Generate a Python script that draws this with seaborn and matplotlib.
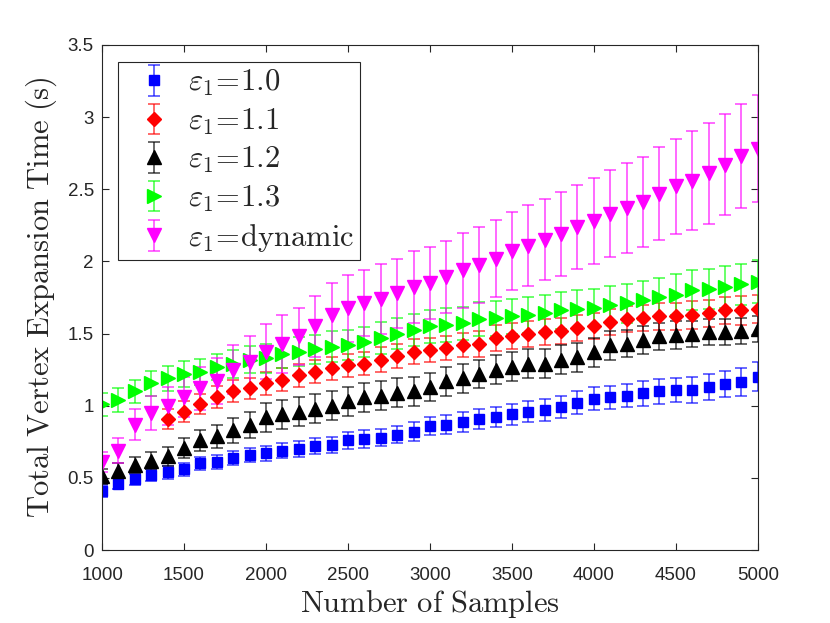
import numpy as np
import matplotlib
matplotlib.use("Agg")
import matplotlib.pyplot as plt
import seaborn as sns

# Number of samples on the x axis
samples = list(range(1000, 5001, 100))

# Mean total vertex expansion time (s)
eps_10 = [0.41, 0.46, 0.49, 0.52, 0.54, 0.56, 0.60, 0.61, 0.64, 0.66,
          0.67, 0.69, 0.70, 0.72, 0.73, 0.76, 0.77, 0.78, 0.80, 0.82,
          0.86, 0.87, 0.89, 0.91, 0.92, 0.94, 0.96, 0.97, 0.99, 1.02,
          1.05, 1.06, 1.07, 1.085, 1.10, 1.11, 1.11, 1.13, 1.15, 1.165, 1.20]
# the first four points of this series are not visible in the figure
eps_11 = [np.nan, np.nan, np.nan, np.nan, 0.91, 0.96, 1.01, 1.06, 1.10, 1.12,
          1.155, 1.18, 1.21, 1.235, 1.26, 1.28, 1.29, 1.32, 1.345, 1.375,
          1.385, 1.40, 1.42, 1.43, 1.47, 1.48, 1.50, 1.51, 1.52, 1.54,
          1.55, 1.58, 1.60, 1.61, 1.62, 1.62, 1.63, 1.64, 1.66, 1.66, 1.67]
eps_12 = [0.51, 0.55, 0.59, 0.62, 0.65, 0.71, 0.76, 0.79, 0.83, 0.87,
          0.92, 0.94, 0.96, 0.98, 1.00, 1.03, 1.06, 1.07, 1.09, 1.10,
          1.13, 1.17, 1.19, 1.22, 1.25, 1.27, 1.29, 1.29, 1.32, 1.335,
          1.37, 1.42, 1.43, 1.455, 1.48, 1.49, 1.50, 1.51, 1.51, 1.52, 1.53]
eps_13 = [1.01, 1.04, 1.10, 1.155, 1.19, 1.22, 1.235, 1.27, 1.29, 1.32,
          1.33, 1.36, 1.375, 1.39, 1.41, 1.42, 1.44, 1.47, 1.50, 1.525,
          1.55, 1.56, 1.57, 1.60, 1.605, 1.62, 1.63, 1.64, 1.66, 1.67,
          1.68, 1.70, 1.71, 1.73, 1.75, 1.77, 1.80, 1.81, 1.825, 1.84, 1.86]
eps_dyn = [0.61, 0.69, 0.87, 0.95, 1.00, 1.06, 1.12, 1.17, 1.25, 1.30,
           1.375, 1.43, 1.48, 1.55, 1.63, 1.675, 1.71, 1.74, 1.78, 1.825,
           1.85, 1.89, 1.94, 1.975, 2.02, 2.07, 2.11, 2.15, 2.19, 2.24,
           2.28, 2.33, 2.37, 2.41, 2.47, 2.52, 2.56, 2.61, 2.67, 2.73, 2.78]

# Error bar half-lengths
err_10 = [0.04, 0.04, 0.04, 0.04, 0.045, 0.045, 0.045, 0.05, 0.05, 0.05,
          0.05, 0.05, 0.055, 0.055, 0.055, 0.06, 0.06, 0.06, 0.06, 0.065,
          0.065, 0.065, 0.07, 0.07, 0.07, 0.07, 0.075, 0.075, 0.075, 0.08,
          0.08, 0.08, 0.08, 0.085, 0.085, 0.085, 0.09, 0.09, 0.09, 0.095, 0.1]
err_11 = [0.05, 0.05, 0.05, 0.05, 0.07, 0.07, 0.07, 0.075, 0.075, 0.075,
          0.08, 0.08, 0.08, 0.08, 0.08, 0.08, 0.08, 0.085, 0.085, 0.085,
          0.085, 0.085, 0.085, 0.09, 0.09, 0.09, 0.09, 0.09, 0.09, 0.09,
          0.09, 0.09, 0.09, 0.09, 0.095, 0.095, 0.095, 0.095, 0.095, 0.1, 0.1]
err_12 = [0.05, 0.05, 0.055, 0.06, 0.065, 0.07, 0.075, 0.08, 0.085, 0.09,
          0.1, 0.1, 0.1, 0.1, 0.1, 0.1, 0.1, 0.1, 0.1, 0.1,
          0.1, 0.1, 0.1, 0.1, 0.1, 0.1, 0.1, 0.1, 0.1, 0.1,
          0.1, 0.1, 0.095, 0.095, 0.095, 0.095, 0.09, 0.09, 0.09, 0.09, 0.09]
err_13 = [0.08, 0.08, 0.08, 0.085, 0.085, 0.09, 0.09, 0.09, 0.095, 0.095,
          0.1, 0.1, 0.1, 0.1, 0.105, 0.105, 0.105, 0.11, 0.11, 0.11,
          0.115, 0.115, 0.115, 0.12, 0.12, 0.12, 0.125, 0.125, 0.125, 0.13,
          0.13, 0.13, 0.135, 0.135, 0.135, 0.14, 0.14, 0.14, 0.145, 0.145, 0.15]
err_dyn = [0.07, 0.09, 0.11, 0.12, 0.13, 0.14, 0.15, 0.16, 0.17, 0.18,
           0.19, 0.20, 0.20, 0.21, 0.22, 0.23, 0.23, 0.24, 0.24, 0.25,
           0.25, 0.25, 0.26, 0.26, 0.27, 0.27, 0.28, 0.28, 0.29, 0.29,
           0.30, 0.30, 0.31, 0.31, 0.32, 0.33, 0.34, 0.35, 0.35, 0.36, 0.37]

labels = [r"$\varepsilon_1\!=\!\mathrm{1.0}$", r"$\varepsilon_1\!=\!\mathrm{1.1}$",
          r"$\varepsilon_1\!=\!\mathrm{1.2}$", r"$\varepsilon_1\!=\!\mathrm{1.3}$",
          r"$\varepsilon_1\!=\!\mathrm{dynamic}$"]

sns.set_style("ticks")
plt.rcParams["font.family"] = ["Liberation Sans", "DejaVu Sans"]
plt.rcParams["mathtext.fontset"] = "cm"
plt.rcParams["xtick.direction"] = "in"
plt.rcParams["ytick.direction"] = "in"

axis_grey = "#262626"

fig = plt.figure(figsize=(8.3, 6.23), dpi=100)
ax = fig.add_axes([0.123, 0.117, 0.79, 0.811])

series = [
    (eps_10, err_10, (0, 0, 1), "s", 6.8),
    (eps_11, err_11, (1, 0, 0), "D", 7.2),
    (eps_12, err_12, (0, 0, 0), "^", 10),
    (eps_13, err_13, (0, 1, 0), ">", 10),
    (eps_dyn, err_dyn, (1, 0, 1), "v", 10),
]

for (vals, errs, col, mk, ms), lab in zip(series, labels):
    ax.errorbar(samples, vals, yerr=errs, fmt=mk, color=col, ms=ms,
                mec=col, mfc=col, ecolor=col + (0.75,), elinewidth=1.1,
                capsize=4.3, capthick=1.1, label=lab)

ax.set_xlim(1000, 5000)
ax.set_ylim(0, 3.5)
ax.set_xticks(range(1000, 5001, 500))
ax.set_yticks(np.arange(0, 3.51, 0.5))
ax.set_yticklabels(["0", "0.5", "1", "1.5", "2", "2.5", "3", "3.5"])
ax.tick_params(top=True, right=True, labelsize=13.5, length=5, width=0.8,
               color=axis_grey, labelcolor=axis_grey)
ax.tick_params(axis="x", pad=12)
ax.tick_params(axis="y", pad=6)
for sp in ax.spines.values():
    sp.set_linewidth(0.8)
    sp.set_color(axis_grey)

ax.set_xlabel(r"$\mathrm{Number\ of\ Samples}$", fontsize=22, labelpad=3,
              color=axis_grey)
ax.set_ylabel(r"$\mathrm{Total\ Vertex\ Expansion\ Time\ (s)}$", fontsize=22,
              labelpad=6, color=axis_grey)

leg = ax.legend(loc="upper left", bbox_to_anchor=(0.024, 0.966), borderaxespad=0,
                fontsize=22, labelspacing=0.27, handletextpad=0.1,
                handlelength=2.0, borderpad=0.2, fancybox=False, framealpha=1)
leg.get_frame().set_edgecolor(axis_grey)
leg.get_frame().set_linewidth(0.8)

fig.savefig("out.png", dpi=100)
